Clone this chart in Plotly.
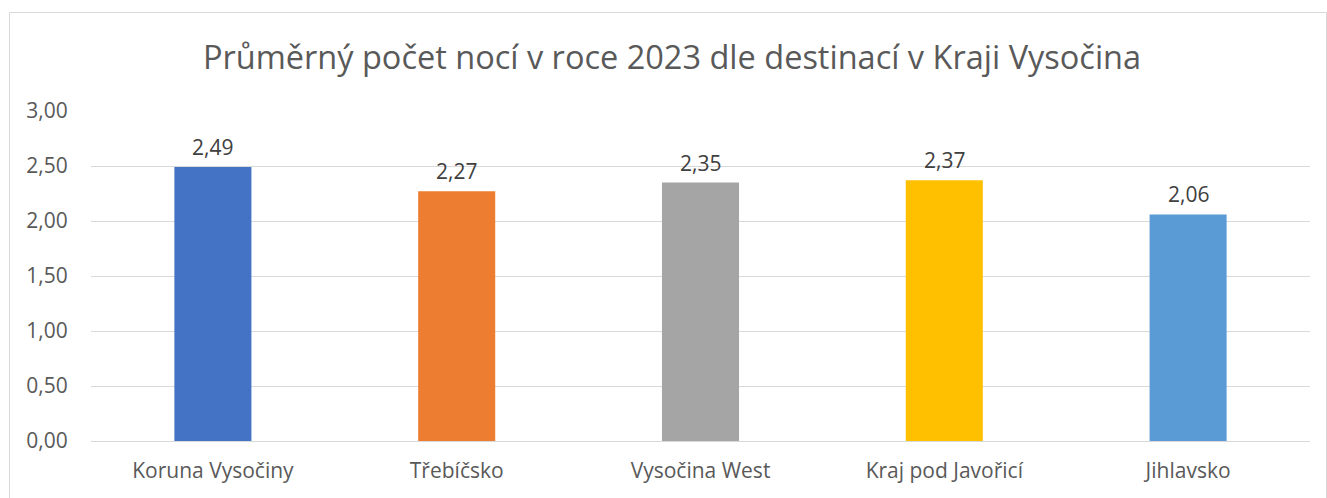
import plotly.graph_objects as go

categories = ["Koruna Vysočiny", "Třebíčsko", "Vysočina West", "Kraj pod Javořicí", "Jihlavsko"]
values = [2.49, 2.27, 2.35, 2.37, 2.06]
colors = ["#4472C4", "#ED7D31", "#A5A5A5", "#FFC000", "#5B9BD5"]
title_text = "Průměrný počet nocí v roce 2023 dle destinací v Kraji Vysočina"

W, H = 1327, 498
L, R, T, B = 91, 17, 111, 57
pw, ph = W - L - R, H - T - B

fig = go.Figure()
fig.add_trace(go.Bar(x=categories, y=values, marker_color=colors, width=0.316,
                     marker_line_width=0, hoverinfo="skip"))

for c, v in zip(categories, values):
    fig.add_annotation(x=c, y=v, text=f"{v:.2f}".replace(".", ","), showarrow=False,
                       yanchor="bottom", yshift=4,
                       font=dict(family="Open Sans", size=21, color="#404040"))

def px(x):
    return (x - L) / pw

def py(y):
    return (H - B - y) / ph

fig.add_shape(type="rect", xref="paper", yref="paper",
              x0=px(9.5), x1=px(1326.5), y0=py(520), y1=py(12.5),
              line=dict(color="#D9D9D9", width=1), fillcolor="rgba(0,0,0,0)", layer="below")

fig.update_layout(
    width=W, height=H,
    margin=dict(l=L, r=R, t=T, b=B),
    paper_bgcolor="white", plot_bgcolor="white",
    separators=", ",
    showlegend=False,
    title=dict(text=title_text, x=672 / W, xanchor="center", xref="container",
               y=1 - 58 / H, yanchor="middle", yref="container",
               font=dict(family="Open Sans", size=32.5, color="#595959")),
    bargap=0.684,
    xaxis=dict(showgrid=False, showline=False, zeroline=False,
               ticks="outside", ticklen=11, tickcolor="rgba(0,0,0,0)",
               tickfont=dict(family="Open Sans", size=21, color="#595959")),
    yaxis=dict(range=[0, 3], dtick=0.5, tickformat=".2f",
               showgrid=True, gridcolor="#D9D9D9", gridwidth=1,
               zeroline=True, zerolinecolor="#D9D9D9", zerolinewidth=1,
               showline=False, ticks="outside", ticklen=18, tickcolor="rgba(0,0,0,0)",
               tickfont=dict(family="Open Sans", size=21, color="#595959")),
)

fig.write_html("out.html")
